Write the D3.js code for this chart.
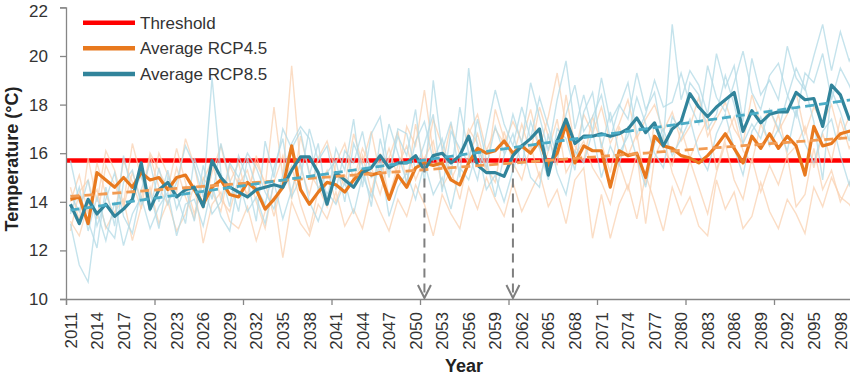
<!DOCTYPE html>
<html>
<head>
<meta charset="utf-8">
<script src="https://cdn.jsdelivr.net/npm/d3@7"></script>
<style>
  body { margin: 0; background: #fff; }
  text { font-family: "Liberation Sans", Arial, sans-serif; }
</style>
</head>
<body>
<div id="thediv"></div>
<script>
// years 2011..2100
var years = d3.range(2011, 2101);
var threshold = 15.7;
var arrowYears = [2051, 2061];
var yTicks = [10, 12, 14, 16, 18, 20, 22];

// ensemble averages
var avgRcp45 = [
  14.1, 14.2, 13.1, 15.2, 14.9, 14.6, 15.0, 14.6, 15.2, 14.9,
  15.0, 14.5, 15.0, 15.1, 14.5, 13.9, 14.6, 14.9, 14.3, 14.2,
  14.8, 14.5, 13.7, 14.1, 14.6, 16.3, 14.5, 13.9, 14.4, 14.8,
  14.7, 14.4, 14.9, 15.3, 15.1, 15.2, 14.1, 15.1, 14.6, 15.4,
  15.6, 15.5, 15.6, 14.9, 14.7, 15.6, 16.2, 16.0, 16.1, 16.5,
  16.0, 16.3, 16.0, 16.5, 15.5, 16.0, 17.2, 15.6, 16.3, 16.1,
  16.1, 14.6, 16.1, 15.9, 16.0, 15.0, 16.7, 16.3, 16.2, 15.9,
  15.8, 15.6, 15.9, 16.3, 16.8, 16.2, 15.6, 16.7, 16.2, 16.8,
  16.2, 16.7, 16.3, 15.1, 17.1, 16.3, 16.4, 16.8, 16.9, 17.0
];
var avgRcp85 = [
  13.9, 13.1, 14.1, 13.5, 13.9, 13.4, 13.7, 14.1, 15.6, 13.7,
  14.5, 14.8, 14.2, 14.5, 14.6, 13.8, 15.7, 15.0, 14.6, 14.4,
  14.2, 14.5, 14.6, 14.7, 14.6, 15.3, 15.85, 15.85, 15.2, 13.9,
  15.2, 14.9, 14.6, 15.2, 15.4, 15.9, 15.4, 15.6, 15.6, 15.9,
  15.3, 15.9, 16.0, 15.6, 15.9, 16.7, 15.5, 15.2, 15.2, 15.05,
  15.9, 16.3, 16.6, 17.0, 15.1, 16.5, 17.4, 16.4, 16.7, 16.7,
  16.8, 16.7, 16.8, 17.0, 17.45, 16.85, 17.25, 16.3, 17.0, 17.3,
  18.45, 17.9, 17.5, 17.9, 18.2, 18.5, 16.9, 17.75, 17.25, 17.6,
  17.7, 17.7, 18.5, 18.2, 18.25, 17.1, 18.8, 18.4, 17.4, 17.6
];

// individual model runs (faint)
var rcp85Runs = [
  [15.7, 14.0, 13.2, 12.1, 14.6, 13.0, 15.9, 14.3, 15.1, 13.6,
   15.4, 13.9, 14.8, 16.3, 15.5, 14.2, 19.1, 15.2, 13.8, 15.9,
   14.9, 13.2, 16.5, 15.0, 17.0, 16.2, 16.9, 15.1, 16.4, 14.0,
   16.2, 15.3, 17.4, 14.6, 16.8, 17.5, 15.2, 16.7, 15.9, 17.8,
   14.8, 19.0, 16.1, 17.3, 15.0, 19.5, 16.2, 15.4, 17.1, 16.0,
   17.6, 16.4, 18.9, 17.5, 16.1, 18.2, 19.8, 17.0, 18.4, 16.9,
   19.1, 17.3, 18.0, 17.4, 19.3, 17.8, 18.5, 16.5, 21.3, 18.2,
   19.4, 18.8, 17.6, 20.1, 18.7, 19.6, 17.3, 19.9, 18.4, 19.0,
   18.2, 20.4, 19.1, 18.6, 20.0, 21.3, 19.4, 21.0, 19.8, 20.6],
  [13.1, 11.4, 10.7, 13.6, 12.4, 14.0, 12.2, 13.5, 14.2, 12.9,
   13.8, 14.4, 12.6, 13.9, 14.1, 13.0, 14.7, 13.4, 12.8, 14.9,
   13.6, 14.2, 13.1, 14.8, 13.3, 14.5, 15.6, 14.0, 13.2, 14.4,
   13.9, 14.8, 13.5, 15.1, 14.2, 15.7, 13.4, 14.6, 15.2, 14.1,
   15.6, 14.3, 15.0, 13.7, 15.4, 14.9, 16.2, 14.5, 15.1, 14.0,
   15.3, 16.4, 15.0, 14.6, 16.8, 15.2, 14.3, 16.1, 15.6, 16.9,
   15.0, 16.3, 15.5, 17.1, 15.8, 14.6, 16.4, 17.0, 15.9, 16.6,
   17.4, 16.0, 15.3, 16.8, 17.6, 16.2, 15.1, 16.9, 17.5, 16.3,
   17.0, 16.1, 17.8, 16.4, 15.6, 16.9, 17.4, 15.9, 14.7, 16.2],
  [14.3, 13.6, 14.9, 13.0, 14.1, 15.2, 13.4, 12.7, 14.5, 15.6,
   14.0, 15.3, 13.7, 14.6, 13.2, 15.5, 14.1, 16.4, 14.9, 13.6,
   15.8, 14.6, 13.9, 15.4, 16.6, 14.2, 15.0, 17.0, 15.7, 16.3,
   14.5, 16.1, 15.6, 16.9, 15.0, 15.3, 17.2, 16.0, 14.8, 16.5,
   17.3, 15.7, 16.6, 15.1, 17.9, 16.0, 14.9, 16.8, 18.6, 17.2,
   16.3, 17.9, 16.6, 18.3, 17.1, 15.8, 17.6, 18.8, 16.9, 17.5,
   18.4, 16.6, 17.9, 18.9, 16.8, 17.6, 19.0, 17.9, 18.1, 19.3,
   18.0, 17.2, 19.6, 18.3, 17.7, 18.9, 20.2, 18.5, 17.8, 19.2,
   19.7, 18.4, 17.5, 19.3, 18.9, 20.1, 18.2, 19.5, 18.8, 17.9],
  [13.5, 14.6, 12.8, 14.2, 13.0, 12.5, 14.8, 15.3, 13.9, 14.4,
   12.9, 15.0, 14.3, 13.1, 15.8, 14.7, 13.5, 14.0, 15.6, 15.0,
   16.0, 15.4, 14.4, 13.7, 15.1, 16.4, 17.1, 16.6, 14.5, 15.2,
   15.7, 14.0, 16.4, 15.5, 13.8, 16.6, 15.0, 17.0, 16.8, 15.3,
   16.4, 17.6, 14.4, 16.9, 16.2, 15.6, 17.4, 15.7, 14.2, 15.9,
   16.8, 15.5, 17.3, 16.2, 14.9, 17.0, 16.6, 15.3, 17.7, 18.5,
   16.2, 17.7, 16.0, 16.7, 18.3, 17.2, 16.0, 15.4, 17.5, 16.9,
   18.9, 18.4, 17.0, 17.6, 19.2, 18.0, 16.4, 17.2, 16.6, 17.8,
   17.0, 18.3, 19.5, 18.7, 17.3, 14.9, 18.6, 17.7, 16.5, 18.4]
];
var rcp45Runs = [
  [14.6, 13.2, 15.8, 14.0, 16.1, 15.3, 13.9, 16.4, 15.0, 14.2,
   16.0, 15.1, 14.4, 16.6, 15.5, 13.7, 15.2, 16.3, 14.8, 15.6,
   14.1, 15.9, 14.6, 17.9, 15.0, 19.6, 15.4, 14.3, 15.8, 16.5,
   15.2, 14.7, 16.8, 15.6, 16.9, 15.1, 16.2, 15.0, 17.1, 16.3,
   18.6, 16.0, 15.4, 17.2, 15.9, 16.8, 17.6, 16.1, 17.0, 16.4,
   17.3, 16.5, 17.8, 16.2, 17.5, 19.3, 17.1, 16.0, 17.6, 16.8,
   17.9, 16.4, 17.2, 18.2, 16.6, 17.4, 18.0, 16.9, 17.7, 16.5,
   17.1, 18.3, 16.7, 17.4, 18.1, 17.0, 16.4, 18.4, 17.2, 17.8,
   16.9, 17.6, 18.5, 16.8, 17.9, 17.3, 18.0, 16.6, 17.5, 17.8],
  [13.2, 12.6, 13.9, 14.5, 12.9, 13.6, 14.1, 12.4, 13.8, 14.6,
   13.1, 14.0, 12.8, 13.5, 14.7, 12.3, 13.9, 14.4, 13.2, 12.9,
   13.8, 12.4, 13.6, 14.2, 11.7, 14.0, 13.1, 12.6, 13.9, 13.3,
   14.4, 13.0, 13.7, 12.9, 14.5, 13.6, 12.8, 14.1, 13.4, 14.7,
   13.9, 12.6, 14.3, 13.5, 12.9, 14.6, 13.7, 15.0, 14.1, 13.4,
   14.8, 13.6, 14.4, 15.2, 13.8, 14.5, 13.1, 14.9, 15.4, 12.5,
   14.3, 12.5, 13.9, 14.7, 13.3, 15.1, 14.0, 12.8, 14.6, 13.5,
   14.2, 13.0, 12.6, 14.9, 13.7, 14.4, 12.9, 13.4, 14.8, 13.6,
   12.9, 14.1, 13.5, 12.7, 14.6, 13.8, 15.0, 14.2, 13.9, 13.3],
  [14.0, 15.1, 13.5, 15.6, 14.3, 13.4, 15.7, 14.8, 13.7, 15.9,
   14.6, 13.9, 15.4, 14.2, 13.3, 15.0, 14.4, 13.6, 15.5, 14.7,
   15.3, 14.0, 12.9, 14.8, 15.9, 14.1, 16.7, 15.2, 14.6, 13.8,
   15.6, 16.4, 14.9, 16.2, 15.4, 14.3, 15.8, 16.9, 14.7, 17.2,
   15.5, 17.4, 16.3, 14.9, 15.7, 17.0, 16.4, 15.2, 17.8, 16.6,
   15.8, 17.2, 16.0, 17.9, 16.7, 15.5, 18.4, 16.3, 15.7, 17.5,
   16.4, 15.2, 17.1, 15.9, 16.8, 14.7, 17.3, 16.2, 15.5, 17.0,
   15.8, 16.7, 17.4, 15.3, 16.6, 17.5, 16.1, 15.6, 17.2, 16.4,
   17.6, 15.9, 16.3, 17.1, 15.4, 16.8, 15.7, 17.4, 16.2, 16.9],
  [12.8, 14.4, 14.9, 13.3, 15.5, 14.7, 13.8, 15.2, 14.1, 16.0,
   15.3, 14.5, 16.2, 14.8, 13.5, 14.9, 15.7, 14.1, 13.6, 15.0,
   14.3, 15.6, 14.8, 13.4, 14.9, 15.5, 13.9, 12.8, 14.5, 15.3,
   14.0, 15.1, 14.6, 15.9, 14.4, 16.0, 14.2, 15.5, 16.3, 14.9,
   15.8, 16.5, 14.6, 15.3, 14.1, 15.9, 16.8, 15.4, 14.8, 16.9,
   15.6, 14.9, 16.3, 15.0, 16.1, 17.4, 15.2, 15.9, 16.5, 15.4,
   14.8, 13.9, 15.6, 14.5, 16.0, 13.1, 15.8, 16.7, 15.2, 14.3,
   15.7, 14.6, 13.5, 15.2, 16.4, 14.9, 14.1, 15.8, 14.4, 15.5,
   14.7, 15.9, 13.8, 14.3, 16.2, 14.5, 15.3, 14.0, 14.8, 13.6]
];

var legendItems = [
  {name: 'Threshold', color: '#FF0000'},
  {name: 'Average RCP4.5', color: '#E8791E'},
  {name: 'Average RCP8.5', color: '#31849B'}
];

var svgWidth = 850, svgHeight = 377;
var svg = d3.select('#thediv').append('svg').attr('width', svgWidth).attr('height', svgHeight);

var plotLeft = 66, plotRight = 862.5, plotTop = 7.4, plotBottom = 299;

var x = d3.scaleBand().domain(years).range([plotLeft, plotRight]).padding(0);
var xc = function(yr) { return x(yr) + x.bandwidth() / 2; };
var xTickScale = d3.scaleLinear().domain([0, years.length]).range([plotLeft, plotRight]);
var y = d3.scaleLinear().domain([10, 22]).range([plotBottom, plotTop]);

var line = d3.line()
  .x(function(d, i) { return xc(years[i]); })
  .y(function(d) { return y(d); });

// threshold
svg.append('line')
  .attr('x1', plotLeft).attr('x2', plotRight)
  .attr('y1', y(threshold)).attr('y2', y(threshold))
  .attr('stroke', '#FF0000').attr('stroke-width', 4.5);

// faint runs
rcp45Runs.forEach(function(r) {
  svg.append('path').datum(r).attr('d', line)
    .attr('fill', 'none').attr('stroke', '#FAD1B2').attr('stroke-opacity', 0.75).attr('stroke-width', 1.4);
});
rcp85Runs.forEach(function(r) {
  svg.append('path').datum(r).attr('d', line)
    .attr('fill', 'none').attr('stroke', '#B2DAE6').attr('stroke-opacity', 0.75).attr('stroke-width', 1.4);
});

// averages
svg.append('path').datum(avgRcp45).attr('d', line)
  .attr('fill', 'none').attr('stroke', '#E8791E').attr('stroke-width', 3.2).attr('stroke-linejoin', 'round');
svg.append('path').datum(avgRcp85).attr('d', line)
  .attr('fill', 'none').attr('stroke', '#31849B').attr('stroke-width', 3.2).attr('stroke-linejoin', 'round');

// linear trends (least squares over year index)
function trend(vals) {
  var mx = d3.mean(vals, function(d, i) { return i; });
  var my = d3.mean(vals);
  var sxy = 0, sxx = 0;
  vals.forEach(function(v, i) { sxy += (i - mx) * (v - my); sxx += (i - mx) * (i - mx); });
  var m = sxy / sxx, b = my - m * mx;
  return vals.map(function(v, i) { return b + m * i; });
}
svg.append('path').datum(trend(avgRcp45)).attr('d', line)
  .attr('fill', 'none').attr('stroke', '#F29B52').attr('stroke-width', 2.8).attr('stroke-dasharray', '9,5');
svg.append('path').datum(trend(avgRcp85)).attr('d', line)
  .attr('fill', 'none').attr('stroke', '#4BACC6').attr('stroke-width', 2.8).attr('stroke-dasharray', '9,5');

// arrows
arrowYears.forEach(function(yr) {
  var ax = xc(yr);
  svg.append('line')
    .attr('x1', ax).attr('x2', ax).attr('y1', y(threshold) + 3).attr('y2', plotBottom - 2)
    .attr('stroke', '#7F7F7F').attr('stroke-width', 2).attr('stroke-dasharray', '9,6');
  svg.append('path')
    .attr('d', 'M' + (ax - 6.5) + ',' + (plotBottom - 14) + 'L' + ax + ',' + (plotBottom - 1) + 'L' + (ax + 6.5) + ',' + (plotBottom - 14))
    .attr('fill', 'none').attr('stroke', '#7F7F7F').attr('stroke-width', 2);
});

// axes
var yAxis = svg.append('g').attr('transform', 'translate(' + plotLeft + ',0)')
  .call(d3.axisLeft(y).tickValues(yTicks).tickSize(6).tickPadding(12));
var xTicks = svg.append('g').attr('transform', 'translate(0,' + plotBottom + ')')
  .call(d3.axisBottom(xTickScale).tickValues(d3.range(0, 90, 10)).tickSize(6).tickFormat(''));
var xLabels = svg.append('g').attr('transform', 'translate(0,' + plotBottom + ')')
  .call(d3.axisBottom(x).tickValues(years.filter(function(d, i) { return i % 3 === 0; })).tickSize(0));
xLabels.select('.domain').remove();
xLabels.selectAll('text')
  .attr('transform', 'rotate(-90)')
  .attr('x', -13).attr('y', 0).attr('dy', '0.36em')
  .style('text-anchor', 'end');

[yAxis, xTicks].forEach(function(g) {
  g.selectAll('.domain').attr('stroke', '#868686').attr('stroke-width', 1.3);
  g.selectAll('.tick line').attr('stroke', '#868686').attr('stroke-width', 1.3);
});
svg.selectAll('.tick text').attr('fill', '#333').style('font-size', '17px')
  .style('font-family', '"Liberation Sans", Arial, sans-serif');
// keep the top label inside the frame
yAxis.selectAll('.tick text').filter(function(d) { return d === 22; }).attr('dy', '0.55em');

// axis titles
svg.append('text').attr('x', 464).attr('y', 372).attr('text-anchor', 'middle')
  .style('font-size', '18px').style('font-weight', 'bold').attr('fill', '#222').text('Year');
svg.append('text').attr('transform', 'translate(18,159) rotate(-90)').attr('text-anchor', 'middle')
  .style('font-size', '18px').style('font-weight', 'bold').attr('fill', '#222').text('Temperature (°C)');

// legend
var legend = svg.append('g');
legendItems.forEach(function(it, i) {
  var ly = 22.7 + i * 25.6;
  legend.append('line').attr('x1', 83).attr('x2', 135).attr('y1', ly).attr('y2', ly)
    .attr('stroke', it.color).attr('stroke-width', 4.5);
  legend.append('text').attr('x', 140).attr('y', ly + 6).style('font-size', '17px')
    .attr('fill', '#333').text(it.name);
});
</script>
</body>
</html>
